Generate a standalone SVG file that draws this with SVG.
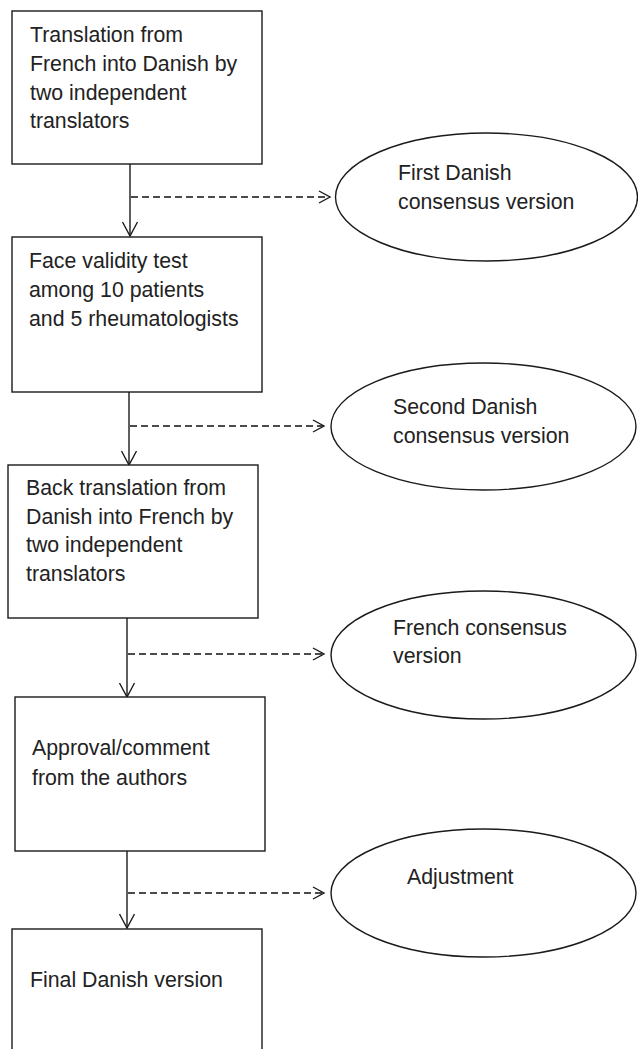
<svg xmlns="http://www.w3.org/2000/svg" width="638" height="1049" viewBox="0 0 638 1049">
<style>
  .box{fill:#fff;stroke:#1a1a1a;stroke-width:1.4}
  .ell{fill:#fff;stroke:#1a1a1a;stroke-width:1.4}
  .t{font-family:"Liberation Sans",Arial,sans-serif;font-size:21.3px;fill:#222}
  .solid{stroke:#1a1a1a;stroke-width:1.4;fill:none}
  .dash{stroke:#111;stroke-width:1.4;fill:none;stroke-dasharray:7 4}
  .head{stroke:#1a1a1a;stroke-width:1.4;fill:none}
</style>
<rect width="638" height="1049" fill="#fff"/>
<g id="connectors">
  <line class="solid" x1="130" y1="164" x2="130" y2="236"/>
  <polyline class="head" points="122.5,222 130,236 137.5,222"/>
  <line class="dash" x1="131" y1="197" x2="329" y2="197"/>
  <polyline class="head" points="319,191 330,197 319,203"/>

  <line class="solid" x1="129" y1="392" x2="129" y2="465"/>
  <polyline class="head" points="121.5,451 129,465 136.5,451"/>
  <line class="dash" x1="130" y1="426" x2="323" y2="426"/>
  <polyline class="head" points="313,420 324,426 313,432"/>

  <line class="solid" x1="127" y1="618" x2="127" y2="697"/>
  <polyline class="head" points="119.5,683 127,697 134.5,683"/>
  <line class="dash" x1="128" y1="654" x2="323" y2="654"/>
  <polyline class="head" points="313,648 324,654 313,660"/>

  <line class="solid" x1="127" y1="851" x2="127" y2="928"/>
  <polyline class="head" points="119.5,914 127,928 134.5,914"/>
  <line class="dash" x1="128" y1="893" x2="323" y2="893"/>
  <polyline class="head" points="313,887 324,893 313,899"/>
</g>
<g id="n1">
  <rect class="box" x="12" y="11" width="250" height="153"/>
  <text class="t"><tspan x="30" y="42">Translation from</tspan><tspan x="30" y="71">French into Danish by</tspan><tspan x="30" y="100">two independent</tspan><tspan x="30" y="128">translators</tspan></text>
</g>
<g id="e1">
  <ellipse class="ell" cx="486.5" cy="197" rx="151" ry="64"/>
  <text class="t"><tspan x="398" y="180">First Danish</tspan><tspan x="398" y="209">consensus version</tspan></text>
</g>
<g id="n2">
  <rect class="box" x="12" y="237" width="250" height="155"/>
  <text class="t"><tspan x="29" y="268">Face validity test</tspan><tspan x="29" y="297">among 10 patients</tspan><tspan x="29" y="326">and 5 rheumatologists</tspan></text>
</g>
<g id="e2">
  <ellipse class="ell" cx="483.5" cy="426.5" rx="152.5" ry="63.5"/>
  <text class="t"><tspan x="393" y="414">Second Danish</tspan><tspan x="393" y="443">consensus version</tspan></text>
</g>
<g id="n3">
  <rect class="box" x="8" y="465" width="250" height="153"/>
  <text class="t"><tspan x="26" y="495">Back translation from</tspan><tspan x="26" y="524">Danish into French by</tspan><tspan x="26" y="552">two independent</tspan><tspan x="26" y="581">translators</tspan></text>
</g>
<g id="e3">
  <ellipse class="ell" cx="483.5" cy="655" rx="152.5" ry="64"/>
  <text class="t"><tspan x="393" y="635">French consensus</tspan><tspan x="393" y="663">version</tspan></text>
</g>
<g id="n4">
  <rect class="box" x="15" y="697" width="250" height="154"/>
  <text class="t"><tspan x="32" y="755">Approval/comment</tspan><tspan x="32" y="785">from the authors</tspan></text>
</g>
<g id="e4">
  <ellipse class="ell" cx="483.5" cy="893" rx="152.5" ry="64"/>
  <text class="t" x="407" y="884">Adjustment</text>
</g>
<g id="n5">
  <rect class="box" x="12" y="929" width="250" height="140"/>
  <text class="t" x="30" y="987">Final Danish version</text>
</g>
</svg>
